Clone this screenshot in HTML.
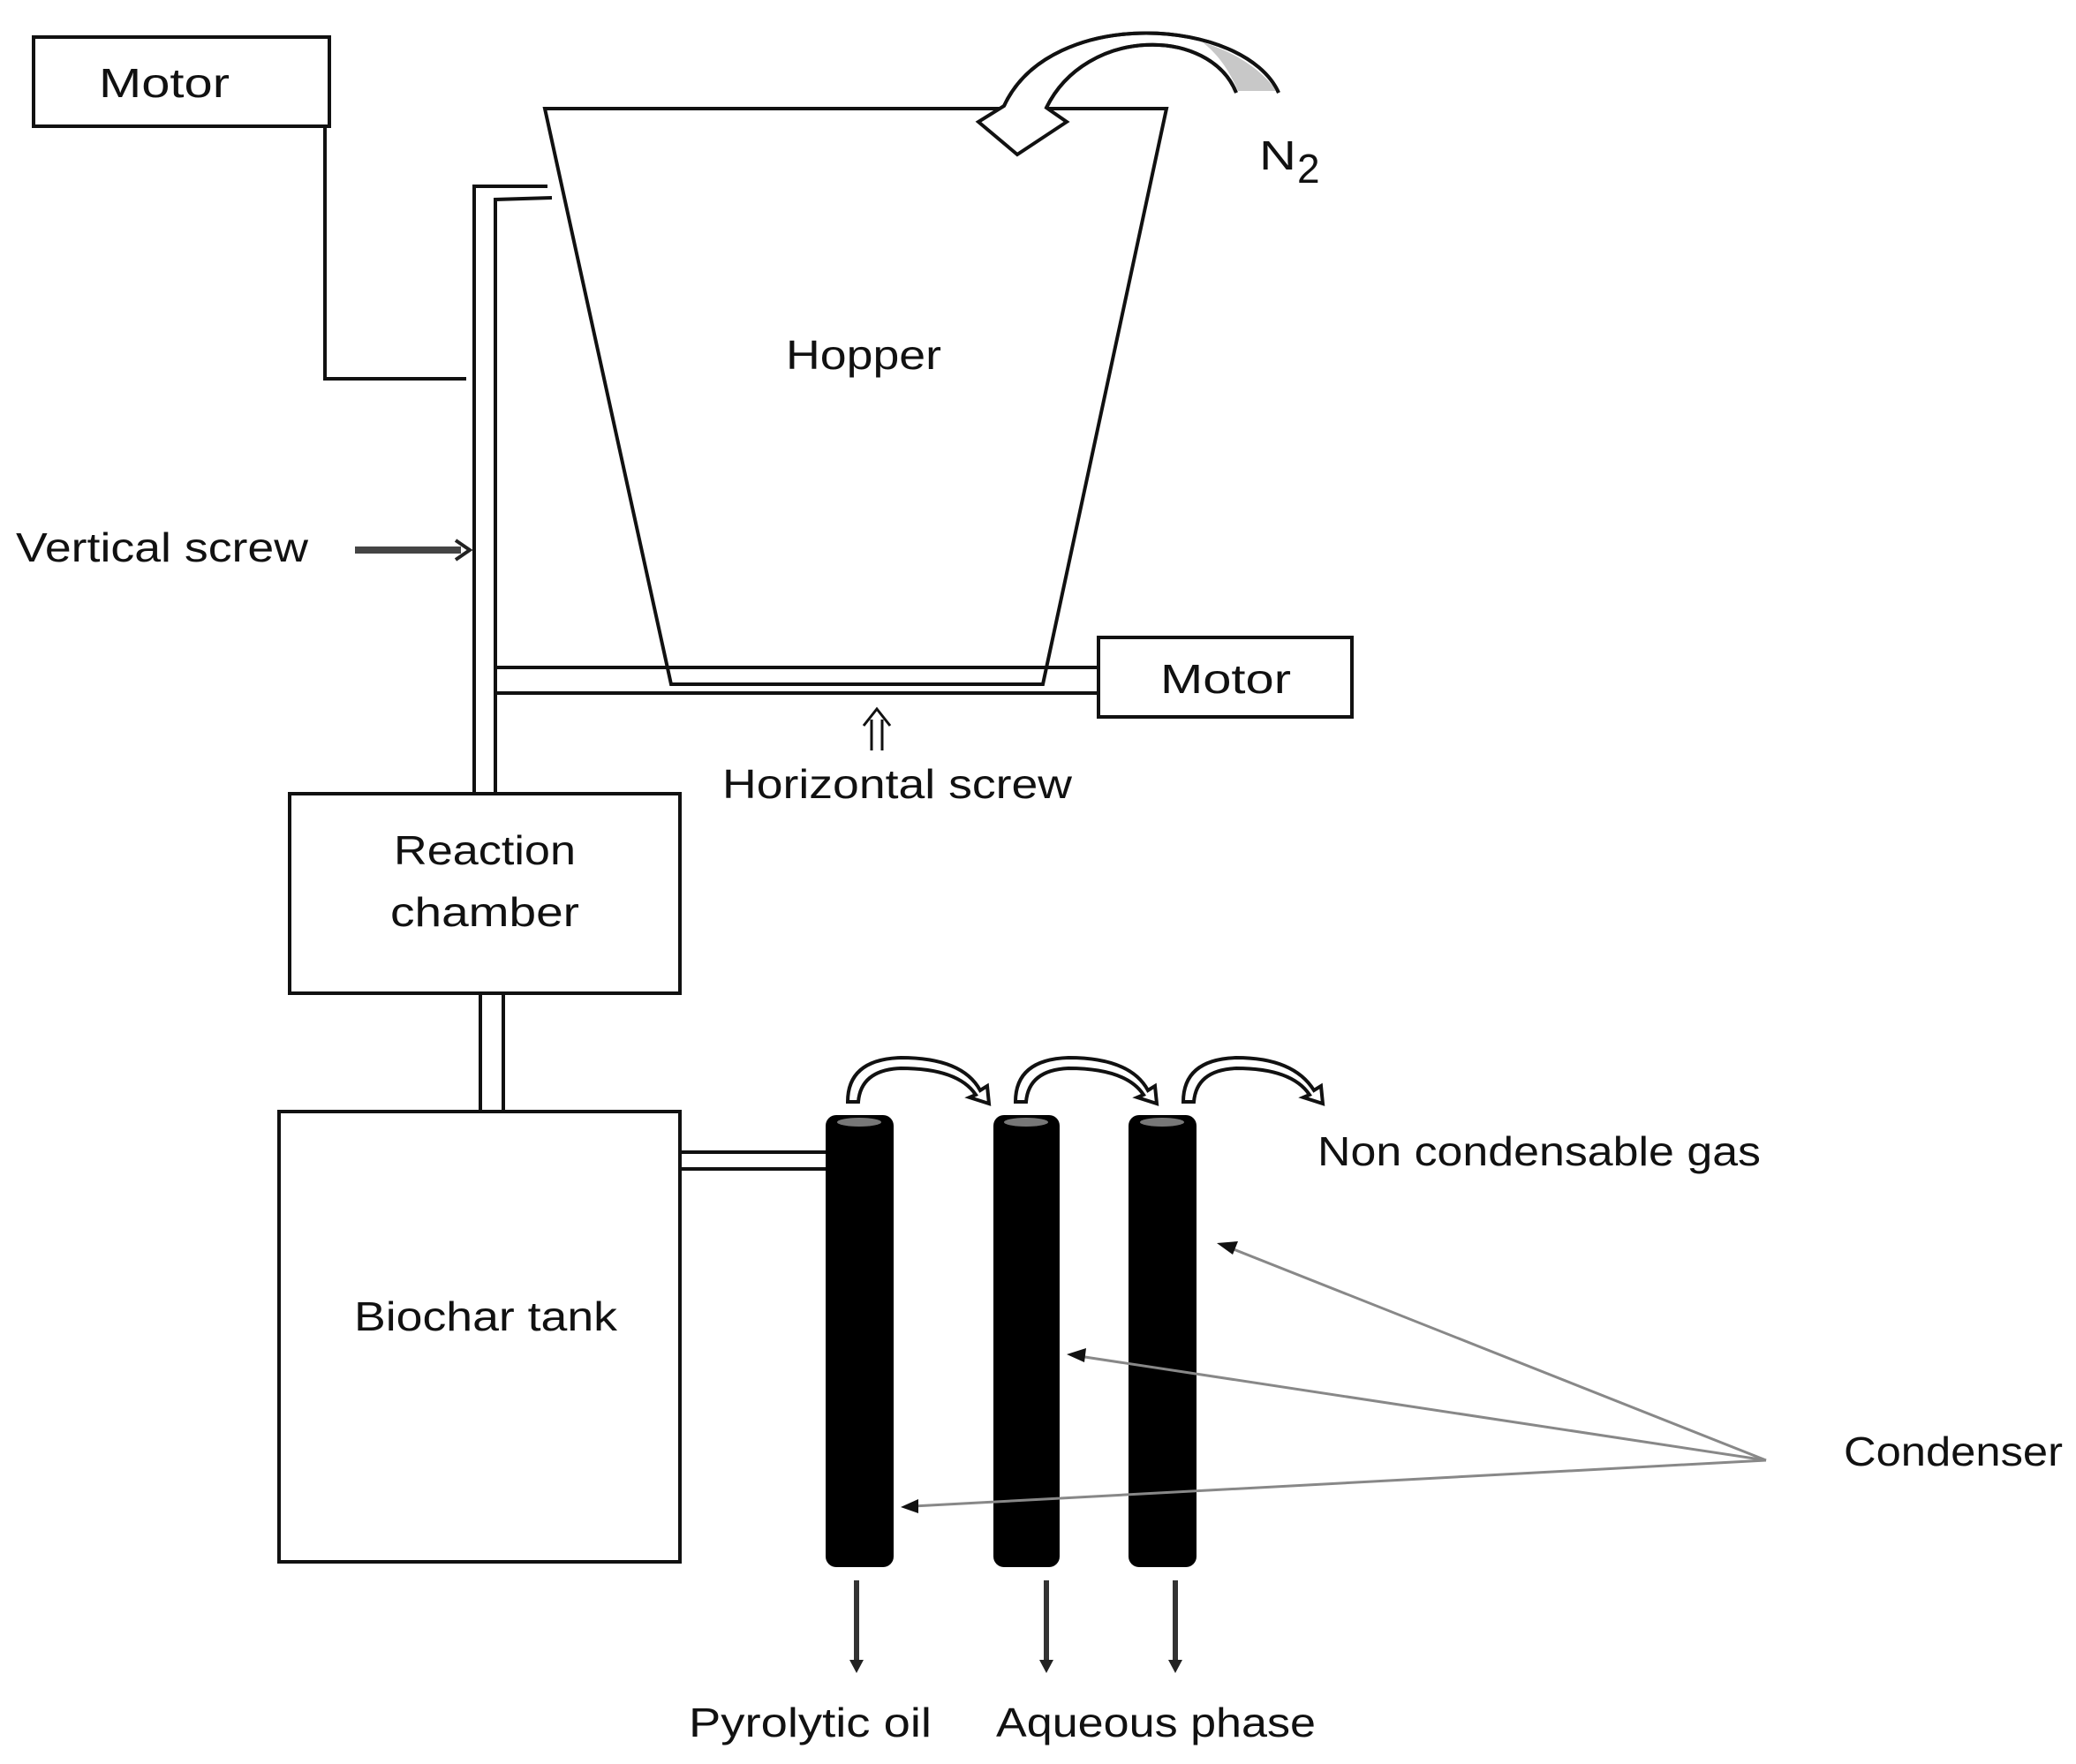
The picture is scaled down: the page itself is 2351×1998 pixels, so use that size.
<!DOCTYPE html>
<html><head><meta charset="utf-8"><style>
html,body{margin:0;padding:0;background:#fff}
svg{display:block}
text{font-family:"Liberation Sans",sans-serif;fill:#111;font-size:46px}
</style></head><body>
<svg width="2351" height="1998" viewBox="0 0 2351 1998" xmlns="http://www.w3.org/2000/svg">
<g fill="none" stroke="#111" stroke-width="4">
<rect x="38" y="42" width="335" height="101"/>
<polyline points="368,143 368,429 528,429"/>
<polygon points="617,123 1321,123 1181,775 760,775" fill="#fff"/>
<polyline points="537,899 537,211 620,211"/>
<polyline points="561,899 561,226 625,224"/>
<line x1="561" y1="756" x2="1244" y2="756"/>
<line x1="561" y1="785" x2="1244" y2="785"/>
<line x1="760" y1="775" x2="1181" y2="775"/>
<rect x="1244" y="722" width="287" height="90"/>
<rect x="328" y="899" width="442" height="226"/>
<line x1="544" y1="1125" x2="544" y2="1259"/>
<line x1="570" y1="1125" x2="570" y2="1259"/>
<rect x="316" y="1259" width="454" height="510"/>
<line x1="770" y1="1305" x2="935" y2="1305"/>
<line x1="770" y1="1324" x2="935" y2="1324"/>
</g>
<!-- N2 curved arrow -->
<path d="M1448,105 C1410,20 1190,5 1137,120 L1108,138 L1152,175 L1208,138 L1185,122 C1230,30 1370,30 1400,105" fill="#fff" stroke="#111" stroke-width="4"/>
<path d="M1402,103 C1392,80 1380,62 1362,48 C1395,58 1425,75 1446,103 Z" fill="#c8c8c8"/>
<path d="M1448,105 C1410,20 1190,5 1137,120 M1185,122 C1230,30 1370,30 1400,105" fill="none" stroke="#111" stroke-width="4"/>
<!-- vertical screw arrow -->
<line x1="402" y1="623" x2="522" y2="623" stroke="#444" stroke-width="8"/>
<path d="M516,612 L532,623 L516,634" fill="none" stroke="#222" stroke-width="4"/>
<path d="M987,850 L987,815 M999,850 L999,815 M978,822 L993,803 L1008,822" fill="none" stroke="#111" stroke-width="3"/>
<g fill="#000">
<rect x="935" y="1263" width="77" height="512" rx="12"/>
<rect x="1125" y="1263" width="75" height="512" rx="12"/>
<rect x="1278" y="1263" width="77" height="512" rx="12"/>
</g>
<g fill="#777"><ellipse cx="973" cy="1271" rx="25" ry="5"/><ellipse cx="1162" cy="1271" rx="25" ry="5"/><ellipse cx="1316" cy="1271" rx="25" ry="5"/></g>
<g fill="#fff" stroke="#111" stroke-width="4">
<path d="M960,1248 Q960,1200 1020,1198 Q1090,1198 1110,1235 L1118,1230 L1120,1250 L1098,1243 L1105,1240 Q1085,1210 1020,1210 Q975,1212 972,1248 Z"/>
<path d="M1150,1248 Q1150,1200 1210,1198 Q1280,1198 1300,1235 L1308,1230 L1310,1250 L1288,1243 L1295,1240 Q1275,1210 1210,1210 Q1165,1212 1162,1248 Z"/>
<path d="M1340,1248 Q1340,1200 1400,1198 Q1465,1198 1488,1235 L1496,1230 L1498,1250 L1476,1243 L1483,1240 Q1463,1210 1400,1210 Q1355,1212 1352,1248 Z"/>
</g>
<g stroke="#333" stroke-width="6" fill="none">
<line x1="970" y1="1790" x2="970" y2="1885"/>
<line x1="1185" y1="1790" x2="1185" y2="1885"/>
<line x1="1331" y1="1790" x2="1331" y2="1885"/>
</g>
<g fill="#222">
<path d="M962,1880 L978,1880 L970,1895z"/><path d="M1177,1880 L1193,1880 L1185,1895z"/><path d="M1323,1880 L1339,1880 L1331,1895z"/>
</g>
<g stroke="#888" stroke-width="3">
<line x1="2000" y1="1654" x2="1392" y2="1413"/>
<line x1="2000" y1="1654" x2="1222" y2="1536"/>
<line x1="2000" y1="1654" x2="1034" y2="1706"/>
</g>
<g fill="#111">
<path d="M1378,1408 L1402,1406 L1396,1421z"/>
<path d="M1208,1534 L1230,1527 L1228,1543z"/>
<path d="M1020,1707 L1040,1698 L1040,1714z"/>
</g>
<text x="112" y="110" textLength="148" lengthAdjust="spacingAndGlyphs">Motor</text>
<text x="890" y="418" textLength="176" lengthAdjust="spacingAndGlyphs">Hopper</text>
<text x="1426" y="192" textLength="42" lengthAdjust="spacingAndGlyphs">N</text>
<text x="1469" y="207" font-size="32">2</text>
<text x="18" y="636" textLength="331" lengthAdjust="spacingAndGlyphs">Vertical screw</text>
<text x="1314" y="785" textLength="148" lengthAdjust="spacingAndGlyphs">Motor</text>
<text x="818" y="904" textLength="396" lengthAdjust="spacingAndGlyphs">Horizontal screw</text>
<text x="446" y="979" textLength="206" lengthAdjust="spacingAndGlyphs">Reaction</text>
<text x="442" y="1049" textLength="214" lengthAdjust="spacingAndGlyphs">chamber</text>
<text x="401" y="1507" textLength="298" lengthAdjust="spacingAndGlyphs">Biochar tank</text>
<text x="1492" y="1320" textLength="502" lengthAdjust="spacingAndGlyphs">Non condensable gas</text>
<text x="2088" y="1660" textLength="248" lengthAdjust="spacingAndGlyphs">Condenser</text>
<text x="780" y="1967" textLength="275" lengthAdjust="spacingAndGlyphs">Pyrolytic oil</text>
<text x="1128" y="1967" textLength="362" lengthAdjust="spacingAndGlyphs">Aqueous phase</text>
</svg>
</body></html>
